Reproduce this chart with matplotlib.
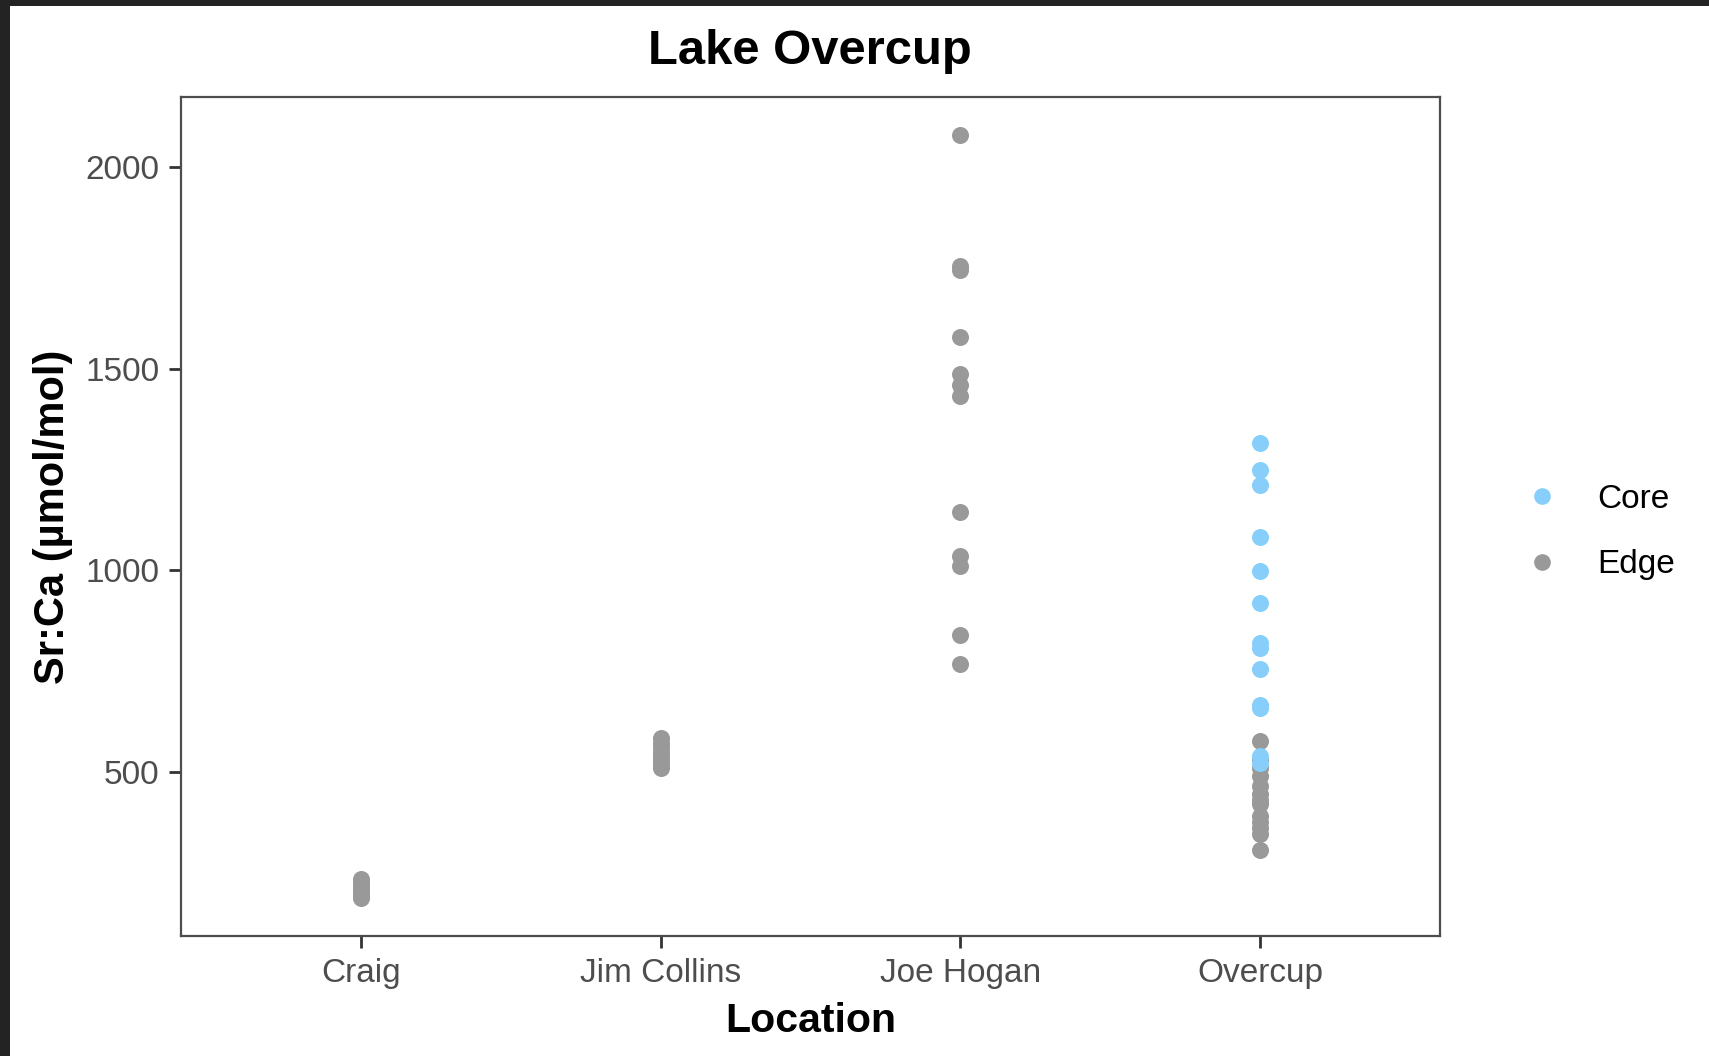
import numpy as np
import matplotlib
matplotlib.use("Agg")
import matplotlib.pyplot as plt
from matplotlib.patches import Rectangle
from matplotlib.lines import Line2D

plt.rcParams["font.family"] = ["Liberation Sans", "DejaVu Sans"]

# Sr:Ca values
locations = ["Craig", "Jim Collins", "Joe Hogan", "Overcup"]

craig_edge = [187, 195, 202, 210, 218, 226, 234]
jim_edge = [510, 520, 530, 540, 550, 560, 570, 583]
joe_edge = [2079, 1755, 1745, 1578, 1487, 1460, 1432, 1143, 1034, 1009, 838, 768]
overcup_edge = [577, 530, 510, 490, 465, 445, 430, 420, 390, 375, 360, 345, 305]
overcup_core = [1316, 1248, 1211, 1082, 999, 919, 818, 806, 754, 665, 657, 540, 522]

edge_color = "#999999"
core_color = "#87CEFA"

fig = plt.figure(figsize=(17.09, 10.56), dpi=100, facecolor="white")
# dark screenshot border along the top and left edges
dark = "#232323"
fig.patches.append(Rectangle((0, 0), 10 / 1709, 1, transform=fig.transFigure,
                             facecolor=dark, edgecolor="none", zorder=10))
fig.patches.append(Rectangle((0, 1 - 6 / 1056), 1, 6 / 1056, transform=fig.transFigure,
                             facecolor=dark, edgecolor="none", zorder=10))

ax = fig.add_axes([181 / 1709, 1 - 936 / 1056, 1259 / 1709, 839 / 1056])

edge_groups = [craig_edge, jim_edge, joe_edge, overcup_edge]
for i, vals in enumerate(edge_groups, start=1):
    ax.scatter([i] * len(vals), vals, s=150, color=edge_color, linewidths=0, zorder=2)
ax.scatter([4] * len(overcup_core), overcup_core, s=150, color=core_color,
           linewidths=0, zorder=3)

ax.set_xlim(0.4, 4.6)
lo, hi = 187, 2079
pad = 0.05 * (hi - lo)
ax.set_ylim(lo - pad, hi + pad)
ax.set_xticks([1, 2, 3, 4])
ax.set_xticklabels(locations)
ax.set_yticks([500, 1000, 1500, 2000])

for s in ax.spines.values():
    s.set_color("#4D4D4D")
    s.set_linewidth(1.6)
ax.tick_params(axis="both", length=8.5, width=2, color="#333333",
               labelsize=24, labelcolor="#4D4D4D", pad=7)

ax.set_xlabel("Location", fontsize=29.5, fontweight="bold", labelpad=9.5)
ax.set_ylabel("Sr:Ca (µmol/mol)", fontsize=30, fontweight="bold", labelpad=9)

fig.text(810 / 1709, 1 - 52 / 1056, "Lake Overcup", fontsize=35.3, fontweight="bold",
         ha="center", va="center")

handles = [
    Line2D([], [], marker="o", linestyle="none", markersize=12, color=core_color,
           markeredgewidth=0, label="Core"),
    Line2D([], [], marker="o", linestyle="none", markersize=12, color=edge_color,
           markeredgewidth=0, label="Edge"),
]
fig.legend(handles=handles, loc="center left", bbox_to_anchor=(1487 / 1709, 1 - 532 / 1056),
           frameon=False, fontsize=24, handletextpad=0.9, labelspacing=1.05,
           handlelength=1.5)

fig.savefig("out.png", dpi=100, facecolor=fig.get_facecolor())
